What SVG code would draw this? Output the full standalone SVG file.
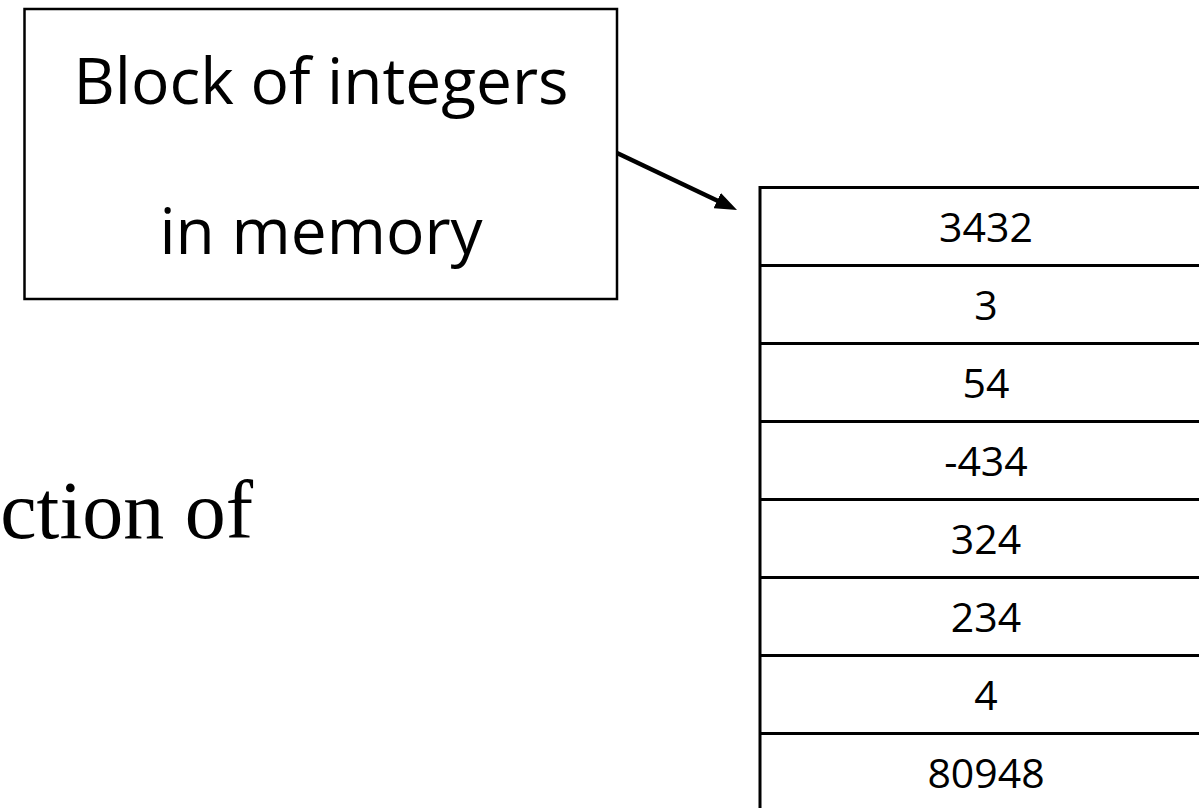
<svg xmlns="http://www.w3.org/2000/svg" width="1199" height="808" viewBox="0 0 1199 808">
  <style>
    .frame { fill: #fff; stroke: #000; stroke-width: 2.5; }
    .cell { fill: none; stroke: #000; stroke-width: 3; }
    .label { font-family: "Open Sans", "Liberation Sans", sans-serif; font-size: 64px; fill: #000; text-anchor: middle; }
    .num { font-family: "Open Sans", "Liberation Sans", sans-serif; font-size: 41px; fill: #000; text-anchor: middle; }
    .title { font-family: "Liberation Serif", "Times New Roman", serif; font-size: 82px; fill: #000; }
    .link { stroke: #000; stroke-width: 4.5; fill: none; }
  </style>
  <defs>
    <marker id="head" viewBox="0 0 22 17" refX="8" refY="8.5" markerWidth="22" markerHeight="17" markerUnits="userSpaceOnUse" orient="auto">
      <path d="M0,0 L22,8.5 L0,17 z" fill="#000"/>
    </marker>
  </defs>

  <rect width="1199" height="808" fill="#fff"/>

  <!-- partial slide title -->
  <text class="title" x="253" y="538" text-anchor="end">ction of</text>

  <!-- callout box -->
  <g id="callout">
    <rect class="frame" x="24.5" y="9" width="592.5" height="290"/>
    <text class="label" x="321" y="104">Block of integers</text>
    <text class="label" x="321" y="254">in memory</text>
  </g>

  <!-- memory block: eight integer cells -->
  <g id="memory">
    <rect class="cell" x="760" y="187.5" width="460" height="624" fill="#fff"/>
    <line class="cell" x1="760" y1="265.5" x2="1220" y2="265.5"/>
    <line class="cell" x1="760" y1="343.5" x2="1220" y2="343.5"/>
    <line class="cell" x1="760" y1="421.5" x2="1220" y2="421.5"/>
    <line class="cell" x1="760" y1="499.5" x2="1220" y2="499.5"/>
    <line class="cell" x1="760" y1="577.5" x2="1220" y2="577.5"/>
    <line class="cell" x1="760" y1="655.5" x2="1220" y2="655.5"/>
    <line class="cell" x1="760" y1="733.5" x2="1220" y2="733.5"/>
    <text class="num" x="986" y="241.5">3432</text>
    <text class="num" x="986" y="319.5">3</text>
    <text class="num" x="986" y="397.5">54</text>
    <text class="num" x="986" y="475.5">-434</text>
    <text class="num" x="986" y="553.5">324</text>
    <text class="num" x="986" y="631.5">234</text>
    <text class="num" x="986" y="709.5">4</text>
    <text class="num" x="986" y="787.5">80948</text>
  </g>

  <!-- pointer from callout to memory block -->
  <g id="connectors">
    <line class="link" x1="617" y1="153" x2="724.4" y2="204" marker-end="url(#head)"/>
  </g>
</svg>
